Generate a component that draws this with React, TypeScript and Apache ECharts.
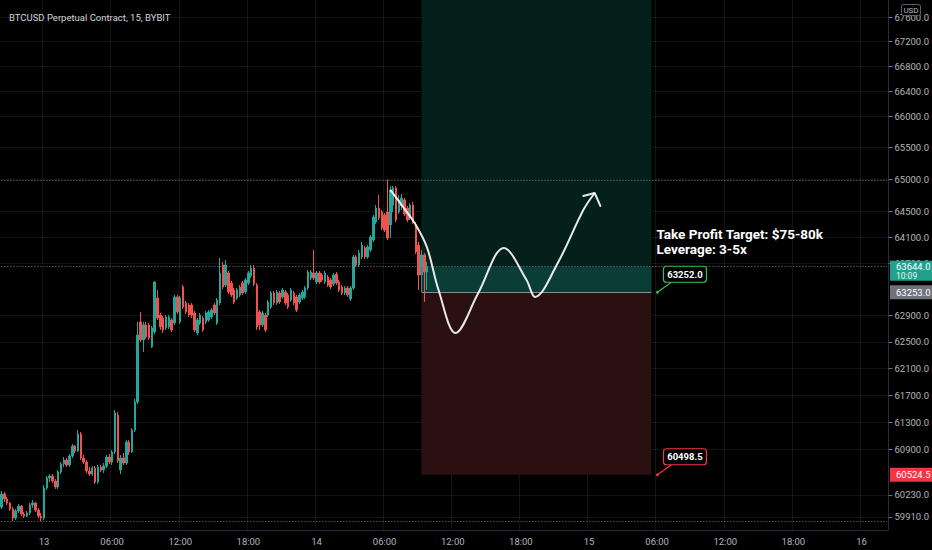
import React, { useEffect, useRef } from 'react';
import * as echarts from 'echarts';

// ---- time slots (15 min candles) ----
const START_UTC = Date.UTC(2024, 5, 12, 20, 15);
const STEP_MS = 15 * 60 * 1000;
const SLOT_COUNT = 313;
const pad = (n: number) => (n < 10 ? '0' + n : '' + n);
const categories: string[] = [];
for (let i = 0; i < SLOT_COUNT; i++) {
  const d = new Date(START_UTC + i * STEP_MS);
  categories.push(`${d.getUTCDate()} ${pad(d.getUTCHours())}:${pad(d.getUTCMinutes())}`);
}

// ---- candles: [open, close, low, high] ----
const candles: number[][] = [
  [60054, 60243, 60025, 60287], [60243, 60170, 60127, 60272], [60170, 60112, 60083, 60200], [60112, 60025, 59996, 60127],
  [60025, 59895, 59852, 60054], [59895, 59996, 59866, 60025], [59996, 60068, 59967, 60098], [60068, 59952, 59923, 60083],
  [59952, 59923, 59895, 59981], [59923, 59967, 59909, 59996], [59967, 60083, 59938, 60112], [60083, 60112, 60039, 60156],
  [60112, 60010, 59981, 60127], [60010, 59923, 59895, 60039], [59923, 59895, 59852, 59967], [59895, 60330, 59866, 60374],
  [60330, 60477, 60301, 60506], [60477, 60506, 60418, 60535], [60506, 60433, 60403, 60535], [60433, 60345, 60316, 60462],
  [60345, 60565, 60316, 60594], [60565, 60682, 60535, 60711], [60682, 60740, 60638, 60784], [60740, 60667, 60638, 60770],
  [60667, 60799, 60638, 60828], [60799, 60946, 60770, 60975], [60946, 60872, 60843, 60960], [60872, 61123, 60858, 61182],
  [61123, 60770, 60740, 61152], [60770, 60711, 60682, 60814], [60711, 60579, 60550, 60740], [60579, 60535, 60506, 60638],
  [60535, 60623, 60506, 60653], [60623, 60418, 60389, 60653], [60418, 60638, 60389, 60667], [60638, 60594, 60565, 60667],
  [60594, 60653, 60550, 60696], [60653, 60784, 60623, 60814], [60784, 60711, 60682, 60828], [60711, 60858, 60667, 60887],
  [60858, 61434, 60828, 61479], [61404, 60726, 60696, 61449], [60594, 60770, 60535, 60814], [60770, 60696, 60667, 60843],
  [60696, 61005, 60667, 61034], [61005, 60858, 60814, 61034], [60858, 61182, 60843, 61211], [61182, 61598, 61152, 61643],
  [61598, 62604, 61568, 62801],
  [62801, 62528, 62498, 62952], [62528, 62755, 62347, 62801], [62755, 62573, 62543, 62801], [62755, 62558, 62528, 62785],
  [62422, 62709, 62407, 62740], [62649, 63409, 62619, 63425], [63165, 62861, 62831, 63287], [62906, 62725, 62679, 62937],
  [62861, 62679, 62634, 62891], [62709, 62876, 62679, 62906], [62725, 62876, 62694, 62906], [62831, 62679, 62649, 62861],
  [62785, 63181, 62755, 63211], [63181, 62952, 62921, 63211], [62801, 63165, 62770, 63196], [63333, 63028, 62998, 63363],
  [63089, 62952, 62921, 63119], [63058, 62906, 62876, 63089], [63058, 62906, 62861, 63089], [62937, 62679, 62649, 62967],
  [62634, 62831, 62604, 62861], [62785, 62906, 62755, 62937], [62861, 62679, 62649, 62891], [62801, 62937, 62770, 62967],
  [62831, 62952, 62801, 62982], [62876, 62982, 62846, 63013], [63058, 62937, 62906, 63089], [62785, 63135, 62755, 63165],
  [63089, 63548, 63058, 63779], [63671, 63333, 63302, 63717], [63363, 63671, 63333, 63748], [63548, 63257, 63226, 63579],
  [63394, 63211, 63181, 63425], [63287, 63104, 63074, 63318], [63165, 63287, 63135, 63318], [63211, 63333, 63181, 63363],
  [63394, 63241, 63211, 63425], [63257, 63440, 63226, 63471], [63394, 63548, 63363, 63579], [63502, 63625, 63471, 63671],
  [63625, 63379, 63348, 63671], [63363, 62725, 62679, 63394], [62952, 62755, 62679, 62982], [62755, 62937, 62725, 62967],
  [62906, 62679, 62649, 62937], [62906, 63104, 62876, 63135], [63028, 63241, 62998, 63272], [63241, 63089, 63058, 63272],
  [63089, 63257, 63058, 63287], [63241, 63104, 63074, 63272], [63181, 63287, 63150, 63318], [63257, 63089, 63058, 63287],
  [63211, 63028, 62998, 63241], [63135, 63287, 63104, 63318], [63241, 63089, 63058, 63272], [63181, 62982, 62952, 63211],
  [63104, 63211, 63074, 63241], [63165, 63257, 63135, 63287], [63181, 63318, 63150, 63348], [63318, 63563, 63287, 63594],
  [63471, 63563, 63440, 63594], [63548, 63471, 63440, 63902], [63409, 63548, 63379, 63579], [63548, 63409, 63379, 63579],
  [63517, 63440, 63409, 63548], [63409, 63548, 63379, 63579], [63486, 63363, 63333, 63517], [63440, 63333, 63302, 63471],
  [63379, 63517, 63348, 63548], [63532, 63394, 63363, 63563], [63409, 63287, 63257, 63440], [63333, 63241, 63211, 63363],
  [63241, 63318, 63211, 63348], [63318, 63211, 63181, 63348], [63150, 63318, 63119, 63348], [63318, 63794, 63287, 63825],
  [63794, 63671, 63640, 63825], [63671, 63856, 63640, 63902], [63794, 63979, 63764, 64026], [63933, 63794, 63764, 63963],
  [63794, 63948, 63764, 63979], [63902, 64103, 63871, 64134], [64057, 64413, 64026, 64444], [64336, 64553, 64305, 64600],
  [64553, 64398, 64367, 64757], [64491, 64243, 64212, 64522], [64444, 64212, 64181, 64475], [64491, 64088, 64057, 64995],
  [64289, 64835, 64088, 64900], [64600, 64867, 64491, 64898], [64867, 64367, 64336, 64898], [64491, 64679, 64460, 64757],
  [64585, 64710, 64522, 64773], [64679, 64460, 64429, 64710], [64553, 64367, 64336, 64585], [64398, 64600, 64367, 64631],
  [64600, 64336, 64305, 64647], [64289, 63871, 63840, 64336], [63979, 63517, 63287, 64026], [63517, 63825, 63440, 63902],
  [63825, 63563, 63104, 63856], [63563, 63644, 63287, 63717],
];

// ---- price axis ----
const priceTicks = [67600, 67200, 66800, 66400, 66000, 65500, 65000, 64500, 64100, 63700,
  62900, 62500, 62100, 61700, 61300, 60900, 60230, 59910];
const priceMin = 59722;
const priceMax = 67880;

// ---- long position tool ----
const boxStart = 148;
const boxEnd = 229;
const entryPrice = 63253;
const entryCallout = '63252.0';
const stopPrice = 60524.5;
const stopCallout = '60498.5';
const currentPrice = 63644;
const countdown = '10:09';

// ---- hand-drawn path [slot index, price] ----
const pathPoints: number[][] = [
  [137, 64835], [141, 64600], [146, 64289], [150, 63933], [154, 63287], [160, 62634],
  [168, 63241], [177, 63933], [185, 63440], [188, 63181], [196, 63702], [205, 64522], [209, 64788],
];
const arrowPoints: number[][] = [[205, 64741], [209, 64788], [211, 64585]];

const noteLines = ['Take Profit Target: $75-80k', 'Leverage: 3-5x'];
const titleText = 'BTCUSD Perpetual Contract, 15, BYBIT';

const UP = '#26a69a';
const DOWN = '#ef5350';
const TXT = '#b2b5be';
const FONT = "Roboto, 'Liberation Sans', sans-serif";
const GRID_RIGHT = 42;
const GRID_BOTTOM = 20;
const L = Math.log;

const isMajor = (v: string) => {
  const t = v.split(' ')[1];
  return t === '00:00' || t === '06:00' || t === '12:00' || t === '18:00';
};

export default function App() {
  const ref = useRef<HTMLDivElement>(null);
  useEffect(() => {
    if (!ref.current) return;
    const chart = echarts.init(ref.current, null, { renderer: 'svg' });
    const dotted = { color: '#7b7e88', type: [1, 2] as any, width: 1 };
    const gridLine = { color: 'rgba(255,255,255,0.075)', width: 1 };
    const ticksL = priceTicks.map(L);
    const highest = Math.max(...candles.map((c) => c[3]));
    const lowest = Math.min(...candles.map((c) => c[2]));
    const first = categories[0];
    const last = categories[SLOT_COUNT - 1];
    const hLine = (p: number, style: any) => [
      { coord: [first, L(p)], lineStyle: style }, { coord: [last, L(p)] },
    ];

    chart.setOption({
      animation: false,
      backgroundColor: '#000000',
      textStyle: { fontFamily: FONT },
      title: {
        text: titleText, left: 4, top: 7,
        textStyle: { color: '#d1d4dc', fontSize: 9.5, fontWeight: 'normal', fontFamily: FONT },
      },
      grid: { left: 0, top: 0, right: GRID_RIGHT, bottom: GRID_BOTTOM, containLabel: false },
      xAxis: {
        type: 'category', data: categories, boundaryGap: true,
        axisLine: { show: true, lineStyle: { color: '#2a2e39' } },
        axisTick: { show: false },
        axisLabel: {
          interval: (_i: number, v: string) => isMajor(v),
          formatter: (v: string) => { const [d, t] = v.split(' '); return t === '00:00' ? d : t; },
          color: TXT, fontSize: 9.5, margin: 6, fontFamily: FONT,
        },
        splitLine: { show: true, interval: (_i: number, v: string) => isMajor(v), lineStyle: gridLine },
      },
      yAxis: {
        type: 'value', position: 'right', min: L(priceMin), max: L(priceMax),
        axisLine: { show: true, lineStyle: { color: '#2a2e39' } },
        axisTick: { show: true, customValues: ticksL, length: 4, lineStyle: { color: '#6a6d78' } },
        axisLabel: {
          customValues: ticksL,
          formatter: (v: number) => (Math.round(Math.exp(v) * 10) / 10).toFixed(1),
          color: TXT, fontSize: 9.5, margin: 6, fontFamily: FONT,
        },
        splitLine: { show: true, lineStyle: gridLine },
      },
      series: [
        {
          type: 'candlestick', name: 'BTCUSD', z: 3,
          data: candles.map((c) => c.map(L)),
          barWidth: '70%',
          itemStyle: { color: UP, color0: DOWN, borderColor: UP, borderColor0: DOWN, borderWidth: 1 },
          markArea: {
            silent: true,
            data: [
              [{ xAxis: categories[boxStart], yAxis: L(entryPrice), itemStyle: { color: '#03201b' } },
                { xAxis: categories[boxEnd], yAxis: L(priceMax) }],
              [{ xAxis: categories[boxStart], yAxis: L(entryPrice), itemStyle: { color: '#0a3d35' } },
                { xAxis: categories[boxEnd], yAxis: L(currentPrice) }],
              [{ xAxis: categories[boxStart], yAxis: L(stopPrice), itemStyle: { color: '#2a1011' } },
                { xAxis: categories[boxEnd], yAxis: L(entryPrice) }],
            ],
          },
        },
        {
          type: 'line', name: 'path', z: 6, smooth: 0.35, symbol: 'none', silent: true,
          data: pathPoints.map(([i, p]) => [i, L(p)]),
          lineStyle: { color: 'rgba(255,255,255,0.9)', width: 2 },
          markLine: {
            silent: true, symbol: 'none', label: { show: false }, z: 4,
            data: [
              hLine(highest, dotted),
              hLine(lowest, dotted),
              hLine(currentPrice, dotted),
              [{ coord: [categories[boxStart], L(entryPrice)], lineStyle: { color: '#8a8d96', width: 1, type: 'solid' } },
                { coord: [categories[boxEnd], L(entryPrice)] }],
              [{ coord: [categories[boxStart], L(currentPrice)], lineStyle: { color: '#6a6d78', width: 1, type: 'solid' } },
                { coord: [categories[boxStart], L(entryPrice)] }],
            ],
          },
        },
        {
          type: 'line', name: 'arrow', z: 6, smooth: false, symbol: 'none', silent: true,
          data: arrowPoints.map(([i, p]) => [i, L(p)]),
          lineStyle: { color: 'rgba(255,255,255,0.9)', width: 2, cap: 'round', join: 'round' },
        },
      ],
    });

    const px = (i: number, p: number) =>
      chart.convertToPixel({ gridIndex: 0 }, [categories[i], L(p)]) as unknown as number[];
    const ax = chart.getWidth() - GRID_RIGHT;
    const yCur = px(0, currentPrice)[1];
    const yEntry = px(0, entryPrice)[1];
    const yStop = px(0, stopPrice)[1];
    const anchorX = px(boxEnd, entryPrice)[0] + 6;

    const tagText = (x: number, y: number, text: string, color = '#ffffff', size = 9.5, bold = false) => ({
      type: 'text', x, y, z: 101,
      style: { text, fill: color, fontSize: size, fontFamily: FONT, fontWeight: bold ? 'bold' : 'normal',
        align: 'left', verticalAlign: 'middle' },
    });
    const callout = (y: number, text: string, color: string) => ([
      { type: 'line', z: 100, shape: { x1: anchorX, y1: y, x2: anchorX + 14, y2: y - 10 }, style: { stroke: color, lineWidth: 1.2 } },
      { type: 'circle', z: 100, shape: { cx: anchorX, cy: y, r: 1.5 }, style: { fill: color } },
      { type: 'rect', z: 100, shape: { x: anchorX + 6, y: y - 26, width: 43, height: 16, r: 3 },
        style: { fill: '#000000', stroke: color, lineWidth: 1.2 } },
      { type: 'text', z: 101, x: anchorX + 27.5, y: y - 18,
        style: { text, fill: '#ffffff', fontSize: 9.5, fontWeight: 'bold', fontFamily: FONT, align: 'center', verticalAlign: 'middle' } },
    ]);

    chart.setOption({
      graphic: [
        // current price tag
        { type: 'rect', z: 100, shape: { x: ax, y: yCur - 6, width: 42, height: 20 }, style: { fill: '#22a08e' } },
        tagText(ax + 6, yCur, currentPrice.toFixed(1)),
        tagText(ax + 6, yCur + 9, countdown, '#e6f4f1', 8.5),
        // entry tag
        { type: 'rect', z: 100, shape: { x: ax, y: yEntry - 7, width: 42, height: 14 }, style: { fill: '#6f727c' } },
        tagText(ax + 6, yEntry, entryPrice.toFixed(1)),
        // stop tag
        { type: 'rect', z: 100, shape: { x: ax, y: yStop - 7, width: 42, height: 14 }, style: { fill: '#f23645' } },
        tagText(ax + 6, yStop, stopPrice.toFixed(1)),
        // callouts
        ...callout(yEntry, entryCallout, '#33c24d'),
        ...callout(yStop, stopCallout, '#f23645'),
        // note
        tagText(anchorX - 1, yEntry - 58, noteLines[0], '#ffffff', 13.5, true),
        tagText(anchorX - 1, yEntry - 43.5, noteLines[1], '#ffffff', 13.5, true),
        // USD badge
        { type: 'rect', z: 100, shape: { x: ax + 11.5, y: 4.5, width: 19, height: 11, r: 2 },
          style: { fill: '#000000', stroke: '#5d606b', lineWidth: 1 } },
        { type: 'text', z: 101, x: ax + 21, y: 10,
          style: { text: 'USD', fill: TXT, fontSize: 8, fontFamily: FONT, align: 'center', verticalAlign: 'middle' } },
      ],
    });

    return () => chart.dispose();
  }, []);

  return <div ref={ref} style={{ position: 'fixed', left: 0, top: 0, width: 932, height: 550 }} />;
}
